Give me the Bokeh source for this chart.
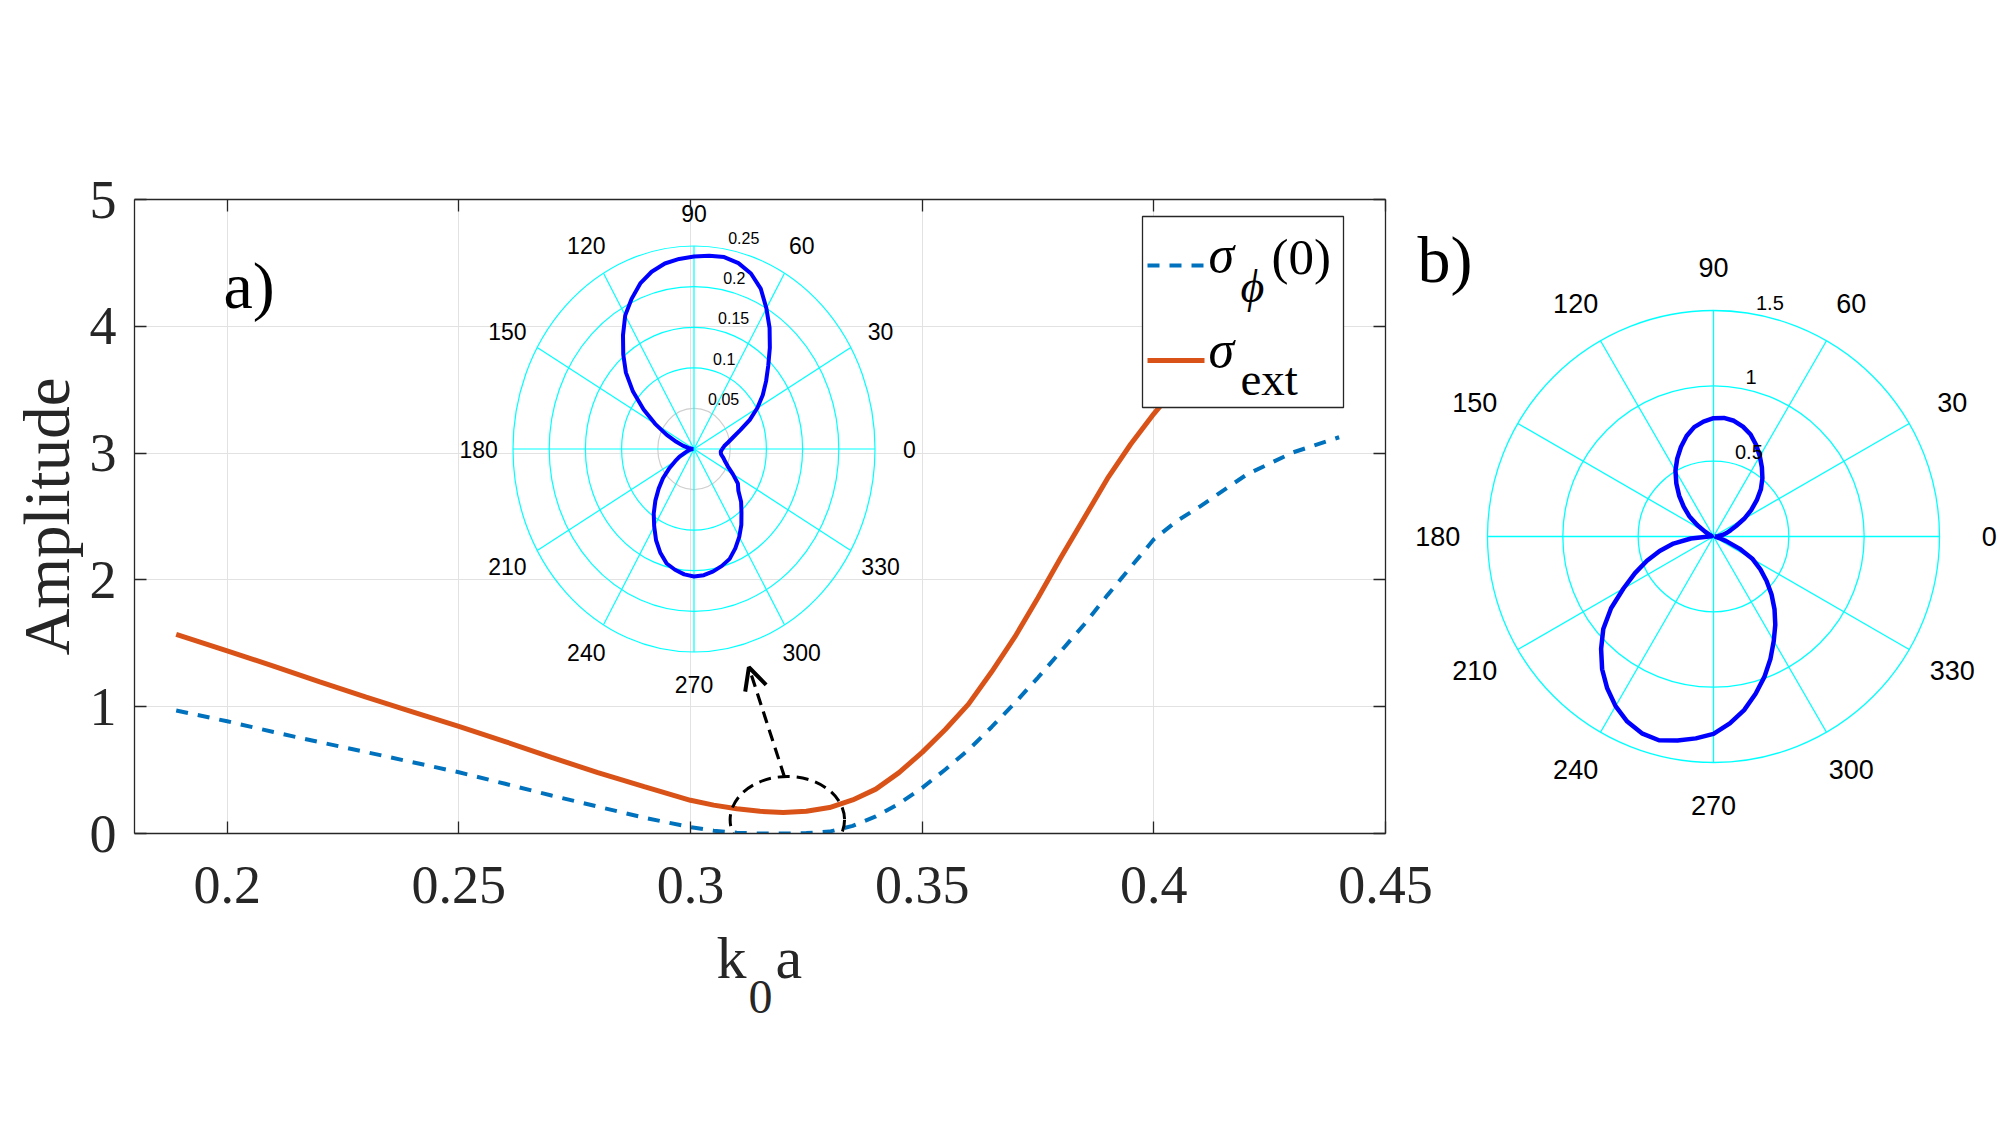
import numpy as np
from bokeh.plotting import figure
from bokeh.models import Range1d, FixedTicker, LinearAxis, Arrow, OpenHead
from bokeh.layouts import row, column
from bokeh.embed import file_html
from bokeh.resources import INLINE
from bokeh.core.properties import value

# ---------------- data: panel a) main curves ----------------
k0a = [0.189, 0.20, 0.21, 0.22, 0.23, 0.24, 0.25, 0.26, 0.27, 0.28, 0.29,
       0.300, 0.305, 0.310, 0.315, 0.320, 0.325, 0.330, 0.335, 0.340, 0.345,
       0.350, 0.355, 0.360, 0.365, 0.370, 0.375, 0.380, 0.385, 0.390, 0.395,
       0.400, 0.405, 0.41, 0.42, 0.43, 0.44]
sigma_phi0 = [0.97, 0.885, 0.80, 0.72, 0.642, 0.562, 0.483, 0.392, 0.30, 0.212, 0.125,
              0.05, 0.022, 0.006, 0.0, 0.0, 0.003, 0.015, 0.06, 0.135, 0.235,
              0.36, 0.505, 0.66, 0.84, 1.03, 1.23, 1.44, 1.65, 1.88, 2.10,
              2.32, 2.465, 2.58, 2.83, 3.005, 3.125]
sigma_ext = [1.57, 1.44, 1.32, 1.195, 1.075, 0.96, 0.845, 0.725, 0.60, 0.48, 0.37,
             0.262, 0.224, 0.195, 0.175, 0.165, 0.175, 0.205, 0.265, 0.35, 0.48,
             0.64, 0.82, 1.02, 1.275, 1.55, 1.86, 2.18, 2.49, 2.80, 3.07,
             3.31, 3.53, 3.75, 4.12, 4.40, 4.60]
x_ticks = [0.2, 0.25, 0.3, 0.35, 0.4, 0.45]
x_tick_labels = ["0.2", "0.25", "0.3", "0.35", "0.4", "0.45"]
y_ticks = [0, 1, 2, 3, 4, 5]

# ---------------- data: polar patterns ----------------
theta_deg = list(range(0, 360, 5))
r_inset_a = [0.039, 0.042, 0.048, 0.056, 0.068, 0.085, 0.101, 0.116, 0.130, 0.145,
             0.163, 0.182, 0.200, 0.218, 0.230, 0.237, 0.240, 0.239, 0.237, 0.235,
             0.232, 0.226, 0.217, 0.204, 0.190, 0.171, 0.152, 0.133, 0.110, 0.085,
             0.062, 0.042, 0.026, 0.016, 0.008, 0.003, 0.001, 0.003, 0.006, 0.009,
             0.013, 0.022, 0.030, 0.042, 0.056, 0.069, 0.083, 0.097, 0.110, 0.124,
             0.136, 0.146, 0.151, 0.155, 0.157, 0.156, 0.153, 0.149, 0.144, 0.135,
             0.125, 0.114, 0.102, 0.092, 0.080, 0.074, 0.062, 0.052, 0.046, 0.042,
             0.038, 0.037]
r_polar_b = [0.01, 0.03, 0.06, 0.09, 0.12, 0.165, 0.235, 0.305, 0.375, 0.445,
             0.505, 0.56, 0.615, 0.67, 0.72, 0.755, 0.78, 0.79, 0.785, 0.765,
             0.737, 0.69, 0.632, 0.57, 0.505, 0.43, 0.355, 0.28, 0.21, 0.13,
             0.065, 0.03, 0.015, 0.01, 0.01, 0.01, 0.03, 0.15, 0.27, 0.37,
             0.47, 0.575, 0.69, 0.83, 0.955, 1.055, 1.15, 1.23, 1.30, 1.355,
             1.39, 1.40, 1.375, 1.345, 1.31, 1.245, 1.17, 1.08, 0.99, 0.895,
             0.80, 0.715, 0.63, 0.545, 0.46, 0.38, 0.30, 0.19, 0.09, 0.04,
             0.02, 0.01]
polar_angle_ticks = list(range(0, 360, 30))
inset_a_rings = [0.05, 0.1, 0.15, 0.2, 0.25]
inset_a_ring_labels = ["0.05", "0.1", "0.15", "0.2", "0.25"]
polar_b_rings = [0.5, 1.0, 1.5]
polar_b_ring_labels = ["0.5", "1", "1.5"]

# ---------------- styles / layout ----------------
BLUE, ORANGE, AXC, GRIDC = "#0072BD", "#D95319", "#262626", "#e2e2e2"
CYAN, PBLUE = "#00FFFF", "#0000FF"
SERIF, SANS = "Liberation Serif", "Liberation Sans"

H_TOTAL = 1125
H_TOP = 960                      # height of the row holding a) and b)
W_MAIN = 1440
FL, FR, FT, FB = 134, 1385, 199, 833          # frame edges (canvas px)
A_CX, A_CY, A_RX, A_RY = 693.5, 448.5, 181.0, 203.0   # inset centre / outer radii px
B_SHIFT = 30                                         # overlap of b) canvas onto a)
W_B = 2000 - W_MAIN + B_SHIFT
B_CX, B_CY, B_R = 1713.0 - (W_MAIN - B_SHIFT), 536.0, 226.0
STRIP_TOP = 860                  # canvas y where the bottom strip (x title) starts


def mid(baseline, fs):
    """vertical centre used with text_baseline='middle' for a given baseline"""
    return baseline - 0.34 * fs


p = figure(width=W_MAIN, height=H_TOP, x_range=Range1d(0.18, 0.45), y_range=Range1d(0, 5),
           output_backend="svg", toolbar_location=None, title=None,
           min_border_left=FL, min_border_right=W_MAIN - FR,
           min_border_top=FT, min_border_bottom=H_TOP - FB,
           background_fill_color="white", border_fill_color="white")
p.outline_line_color = None
p.frame_align = False

sx_a, sy_a = A_RX / inset_a_rings[-1], A_RY / inset_a_rings[-1]
p.extra_x_ranges = {"ax": Range1d((FL - A_CX) / sx_a, (FR - A_CX) / sx_a),
                    "cx": Range1d(FL, FR)}
p.extra_y_ranges = {"ay": Range1d(-(FB - A_CY) / sy_a, (A_CY - FT) / sy_a),
                    "cy": Range1d(H_TOP - FB, H_TOP - FT)}

for ax in (p.xaxis[0], p.yaxis[0]):
    ax.axis_line_color = AXC
    ax.axis_line_width = 1.3
    ax.major_tick_line_color = AXC
    ax.major_tick_line_width = 1.3
    ax.major_tick_in = 12
    ax.major_tick_out = 0
    ax.minor_tick_line_color = None
    ax.major_label_text_font = SERIF
    ax.major_label_text_font_size = "54px"
    ax.major_label_text_color = AXC
p.xaxis.ticker = FixedTicker(ticks=x_ticks)
p.xaxis.major_label_overrides = dict(zip(x_ticks, x_tick_labels))
p.xaxis.major_label_standoff = 33
p.yaxis.ticker = FixedTicker(ticks=y_ticks)
p.yaxis.major_label_standoff = 18
p.yaxis.axis_label = "Amplitude"
p.yaxis.axis_label_text_font = SERIF
p.yaxis.axis_label_text_font_size = "65px"
p.yaxis.axis_label_text_font_style = "normal"
p.yaxis.axis_label_text_color = AXC
p.yaxis.axis_label_standoff = 4

for loc, tks in (("above", x_ticks), ("right", y_ticks)):
    mirror = LinearAxis(ticker=FixedTicker(ticks=tks),
                        major_label_overrides={t: "" for t in tks},
                        major_label_text_font_size="0px",
                        axis_line_color=AXC, axis_line_width=1.3,
                        major_tick_line_color=AXC, major_tick_line_width=1.3,
                        major_tick_in=12, major_tick_out=0,
                        minor_tick_line_color=None)
    p.add_layout(mirror, loc)

p.xgrid.ticker = FixedTicker(ticks=x_ticks)
p.ygrid.ticker = FixedTicker(ticks=y_ticks)
p.grid.grid_line_color = GRIDC
p.grid.grid_line_width = 1

# ---------------- inset polar a) ----------------
th = np.deg2rad(np.array(theta_deg + [theta_deg[0]]))
ra = np.array(r_inset_a + [r_inset_a[0]])
for rr in inset_a_rings:
    p.ellipse(x=[0], y=[0], width=[2 * rr], height=[2 * rr], fill_color=None,
              line_color=("#cfcfcf" if rr == inset_a_rings[0] else CYAN), line_width=1.2,
              x_range_name="ax", y_range_name="ay")
sp = np.deg2rad(np.array(polar_angle_ticks))
R_A = inset_a_rings[-1]
p.segment(x0=np.zeros(len(sp)), y0=np.zeros(len(sp)), x1=R_A * np.cos(sp), y1=R_A * np.sin(sp),
          line_color=CYAN, line_width=1.2, x_range_name="ax", y_range_name="ay")
p.line(x=ra * np.cos(th), y=ra * np.sin(th), line_color=PBLUE, line_width=4,
       x_range_name="ax", y_range_name="ay")
p.text(x=1.19 * R_A * np.cos(sp), y=1.16 * R_A * np.sin(sp),
       text=[str(a) for a in polar_angle_ticks], text_font=value(SANS), text_font_size="23px",
       text_align="center", text_baseline="middle", text_color="black",
       x_range_name="ax", y_range_name="ay")
c82 = np.deg2rad(82)
p.text(x=[rr * np.cos(c82) for rr in inset_a_rings], y=[rr * np.sin(c82) for rr in inset_a_rings],
       text=inset_a_ring_labels, text_font=value(SANS), text_font_size="16px",
       text_align="left", text_baseline="middle", x_offset=9, y_offset=-10, text_color="black",
       x_range_name="ax", y_range_name="ay")

# ---------------- main curves ----------------
p.line(k0a, sigma_phi0, line_color=BLUE, line_width=4, line_dash="12 10")
p.line(k0a, sigma_ext, line_color=ORANGE, line_width=5)

# zoom ellipse + arrow
p.ellipse(x=[0.3209], y=[0.108], width=[0.0247], height=[0.683], fill_color=None,
          line_color="black", line_width=3, line_dash="12 7")
p.add_layout(Arrow(end=OpenHead(size=22, line_width=4, line_color="black"),
                   x_start=0.3203, y_start=0.444, x_end=0.3126, y_end=1.311,
                   line_color="black", line_width=3.2, line_dash="12 7"))

# ---------------- legend (manual, to allow subscripts) ----------------
def cyv(ytop):
    return H_TOP - ytop

p.quad(left=[1142], right=[1343], top=[cyv(216)], bottom=[cyv(407)], fill_color="white",
       line_color=AXC, line_width=1.3, x_range_name="cx", y_range_name="cy")
p.line(x=[1147, 1204], y=[cyv(265)] * 2, line_color=BLUE, line_width=4, line_dash="12 10",
       x_range_name="cx", y_range_name="cy")
p.line(x=[1147, 1204], y=[cyv(360)] * 2, line_color=ORANGE, line_width=5,
       x_range_name="cx", y_range_name="cy")
p.text(x=[1208, 1208], y=[cyv(mid(272, 52)), cyv(mid(367, 52))], text=["σ", "σ"],
       text_font=value(SERIF), text_font_style="italic", text_font_size="52px",
       text_baseline="middle", text_color="black", x_range_name="cx", y_range_name="cy")
p.text(x=[1240], y=[cyv(mid(302, 46))], text=["ϕ"], text_font=value(SERIF),
       text_font_style="italic", text_font_size="46px", text_baseline="middle",
       text_color="black", x_range_name="cx", y_range_name="cy")
p.text(x=[1271], y=[cyv(mid(274, 51))], text=["(0)"], text_font=value(SERIF),
       text_font_size="51px", text_baseline="middle", text_color="black",
       x_range_name="cx", y_range_name="cy")
p.text(x=[1240], y=[cyv(mid(394, 47))], text=["ext"], text_font=value(SERIF),
       text_font_size="47px", text_baseline="middle", text_color="black",
       x_range_name="cx", y_range_name="cy")

# panel label a)
p.text(x=[223], y=[cyv(mid(307, 66))], text=["a)"], text_font=value(SERIF),
       text_font_size="66px", text_baseline="middle", text_color="black",
       x_range_name="cx", y_range_name="cy")

# ---------------- polar b) ----------------
kb = B_R / polar_b_rings[-1]
pb = figure(width=W_B, height=H_TOP, x_range=Range1d(-B_CX / kb, (W_B - B_CX) / kb),
            y_range=Range1d(-(H_TOP - B_CY) / kb, B_CY / kb), x_axis_type=None, y_axis_type=None,
            min_border=0, output_backend="svg", toolbar_location=None, title=None)
pb.outline_line_color = None
pb.background_fill_alpha = 0
pb.border_fill_alpha = 0
pb.frame_align = False
pb.margin = (0, 0, 0, -B_SHIFT)
pb.extra_x_ranges = {"cx": Range1d(0, W_B)}
pb.extra_y_ranges = {"cy": Range1d(0, H_TOP)}

for rr in polar_b_rings:
    pb.ellipse(x=[0], y=[0], width=[2 * rr], height=[2 * rr], fill_color=None,
               line_color=CYAN, line_width=1.3)
R_B = polar_b_rings[-1]
pb.segment(x0=np.zeros(len(sp)), y0=np.zeros(len(sp)), x1=R_B * np.cos(sp), y1=R_B * np.sin(sp),
           line_color=CYAN, line_width=1.3)
rb = np.array(r_polar_b + [r_polar_b[0]])
pb.line(x=rb * np.cos(th), y=rb * np.sin(th), line_color=PBLUE, line_width=4.5)
pb.text(x=1.22 * R_B * np.cos(sp), y=1.19 * R_B * np.sin(sp),
        text=[str(a) for a in polar_angle_ticks], text_font=value(SANS), text_font_size="27px",
        text_align="center", text_baseline="middle", text_color="black")
pb.text(x=[rr * np.cos(c82) for rr in polar_b_rings], y=[rr * np.sin(c82) for rr in polar_b_rings],
        text=polar_b_ring_labels, text_font=value(SANS), text_font_size="20px",
        text_align="left", text_baseline="middle", x_offset=11, y_offset=-10, text_color="black")
pb.text(x=[1417 - (W_MAIN - B_SHIFT)], y=[H_TOP - mid(281, 66)], text=["b)"],
        text_font=value(SERIF), text_font_size="66px", text_baseline="middle",
        text_color="black", x_range_name="cx", y_range_name="cy")

# ---------------- strip below: x-axis title k0a with a real subscript ----------------
H_LAB = H_TOTAL - STRIP_TOP
pl = figure(width=2000, height=H_LAB, x_range=Range1d(0, 2000), y_range=Range1d(0, H_LAB),
            x_axis_type=None, y_axis_type=None, min_border=0, output_backend="svg",
            toolbar_location=None, title=None)
pl.outline_line_color = None
pl.background_fill_alpha = 0
pl.border_fill_alpha = 0
pl.frame_align = False
pl.margin = (STRIP_TOP - H_TOP, 0, 0, 0)
pl.text(x=[716, 775], y=[H_TOTAL - mid(978, 60)] * 2, text=["k", "a"], text_font=value(SERIF),
        text_font_size="60px", text_baseline="middle", text_color=AXC)
pl.text(x=[748], y=[H_TOTAL - mid(1013, 48)], text=["0"], text_font=value(SERIF),
        text_font_size="48px", text_baseline="middle", text_color=AXC)

layout = column(row(p, pb), pl)
open("out.html", "w").write(file_html(layout, INLINE))
